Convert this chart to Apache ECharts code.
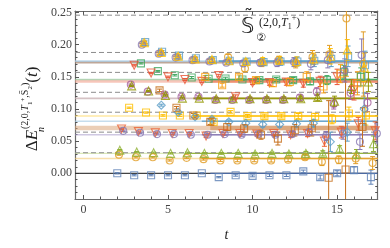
<!DOCTYPE html>
<html><head><meta charset="utf-8">
<script src="https://cdn.jsdelivr.net/npm/echarts@6/dist/echarts.min.js"></script>
<style>html,body{margin:0;padding:0;background:#fff}#c{width:390px;height:248px}</style>
</head><body><div id="c"></div>
<script>
// ---------- axis ticks ----------
const xMajorTicks = [0, 5, 10, 15];
const yMajorTicks = [0, 0.05, 0.10, 0.15, 0.20, 0.25];
const xRange = [-0.5, 17.4];
const yRange = [-0.04, 0.2525];

// ---------- non-interacting levels (dashed) ----------
const levels = [0.032, 0.064, 0.095, 0.126, 0.157, 0.188, 0.246];

// ---------- data series (first t, values, errors) ----------
const blueSqT0 = 2;
const blueSqVal = [0.000,-0.003,-0.003,-0.003,-0.003,0.000,-0.006,-0.003,-0.004,-0.003,-0.003,0.003,-0.006,0.000,0.005,-0.006];
const blueSqErr = [0.001,0.001,0.001,0.001,0.001,0.001,0.001,0.0015,0.0015,0.002,0.002,0.002,0.003,0.004,0.005,0.011];

const orangeLoT0 = 2;
const orangeLoVal = [0.029,0.025,0.025,0.020,0.024,0.022,0.020,0.020,0.020,0.020,0.021,0.025,0.018,0.021,0.023,0.016];
const orangeLoErr = [0.001,0.001,0.001,0.001,0.0012,0.0015,0.0015,0.002,0.002,0.0025,0.003,0.004,0.006,0.006,0.008,0.010];

const greenTriT0 = 2;
const greenTriVal = [0.036,0.033,0.032,0.031,0.032,0.031,0.031,0.031,0.030,0.031,0.030,0.031,0.031,0.038,0.030,0.046];
const greenTriErr = [0.001,0.001,0.001,0.001,0.001,0.0012,0.0015,0.0015,0.002,0.002,0.0025,0.003,0.004,0.005,0.007,0.012];

const redLoT0 = 2;
const redLoVal = [0.069,0.065,0.063,0.062,0.062,0.058,0.062,0.062,0.061,0.062,0.060,0.062,0.050,0.064,0.077,0.066];
const redLoErr = [0.001,0.001,0.0012,0.0015,0.0015,0.002,0.002,0.0025,0.003,0.003,0.004,0.005,0.008,0.009,0.010,0.014];

const purpleLoT0 = 2;
const purpleLoVal = [0.066,0.063,0.061,0.061,0.060,0.060,0.061,0.060,0.061,0.060,0.061,0.064,0.058,0.062,0.049,0.062];
const purpleLoErr = [0.001,0.001,0.0012,0.0015,0.0015,0.002,0.002,0.0025,0.003,0.003,0.004,0.005,0.007,0.009,0.012,0.015];

const yellowSqT0 = 2;
const yellowSqVal = [0.102,0.0945,0.090,0.090,0.090,0.080,0.0955,0.089,0.089,0.089,0.089,0.088,0.084,0.093,0.090];
const yellowSqErr = [0.001,0.001,0.0012,0.0015,0.0015,0.002,0.002,0.0025,0.003,0.003,0.004,0.005,0.007,0.010,0.015];

const lblueLoT0 = 4;
const lblueLoVal = [0.106,0.095,0.088,0.084,0.080,0.078,0.076,0.076,0.077,0.078,0.049,0.064,0.100];
const lblueLoErr = [0.0015,0.002,0.002,0.003,0.003,0.003,0.004,0.004,0.005,0.006,0.015,0.014,0.025];

const brownSqT0 = 4;
const brownSqVal = [0.129,0.102,0.090,0.080,0.072,0.0696,0.060,0.054,0.067,0.070,-0.007,0.006,0.072];
const brownSqErr = [0.002,0.002,0.003,0.004,0.005,0.006,0.007,0.010,0.009,0.012,0.12,0.16,0.03];

const mauveT0 = 2;
const mauveVal = [0.138,0.127,0.1226,0.119,0.119,0.114,0.114,0.114,0.114,0.114,0.118,0.127,0.108,0.125,0.110];
const mauveErr = [0.001,0.001,0.0012,0.0015,0.0015,0.002,0.002,0.0025,0.003,0.003,0.004,0.006,0.008,0.010,0.014];

const oliveT0 = 2;
const oliveVal = [0.136,0.128,0.121,0.117,0.117,0.116,0.116,0.116,0.116,0.116,0.116,0.118,0.112,0.135,0.142];
const oliveErr = [0.001,0.001,0.0012,0.0015,0.0015,0.002,0.002,0.0025,0.003,0.003,0.004,0.005,0.008,0.011,0.015];

const greenSqT0 = 3;
const greenSqVal = [0.171,0.159,0.1526,0.149,0.147,0.1475,0.146,0.145,0.146,0.145,0.143,0.145,0.158,0.150];
const greenSqErr = [0.001,0.001,0.0012,0.0015,0.0015,0.002,0.002,0.0025,0.003,0.004,0.005,0.007,0.010,0.014];

const redMidT0 = 3;
const redMidVal = [0.168,0.156,0.150,0.146,0.143,0.152,0.119,0.141,0.141,0.142,0.140,0.143,0.150,0.130];
const redMidErr = [0.001,0.001,0.0012,0.0015,0.002,0.002,0.003,0.003,0.004,0.005,0.006,0.008,0.012,0.016];

const orangeSqT0 = 7;
const orangeSqVal = [0.150,0.137,0.150,0.145,0.140,0.142,0.150,0.135,0.155,0.140];
const orangeSqErr = [0.002,0.003,0.003,0.004,0.005,0.006,0.008,0.010,0.014,0.018];

const orangeTopT0 = 3;
const orangeTopVal = [0.202,0.187,0.181,0.177,0.175,0.181,0.163,0.172,0.176,0.172,0.181,0.185,0.241,0.170];
const orangeTopErr = [0.002,0.002,0.002,0.003,0.003,0.004,0.005,0.006,0.006,0.008,0.010,0.014,0.09,0.05];

const lblueTopT0 = 3;
const lblueTopVal = [0.204,0.189,0.183,0.179,0.176,0.175,0.174,0.173,0.174,0.174,0.175,0.178,0.182,0.168];
const lblueTopErr = [0.002,0.002,0.002,0.002,0.003,0.003,0.004,0.005,0.006,0.007,0.009,0.012,0.016,0.022];

const purpleTopT0 = 3;
const purpleTopVal = [0.200,0.186,0.180,0.176,0.174,0.172,0.171,0.172,0.172,0.173,0.170,0.176,0.160,0.184];
const purpleTopErr = [0.002,0.002,0.002,0.002,0.003,0.003,0.004,0.005,0.006,0.007,0.009,0.012,0.018,0.025];

const yellowTopT0 = 3;
const yellowTopVal = [0.203,0.188,0.182,0.178,0.177,0.175,0.174,0.175,0.176,0.174,0.178,0.182,0.192,0.165];
const yellowTopErr = [0.002,0.002,0.002,0.002,0.003,0.003,0.004,0.005,0.006,0.007,0.009,0.012,0.016,0.022];

// ---------- fit results (bands) ----------
const fitCenter = [0.000, 0.023, 0.031, 0.060, 0.0705, 0.081, 0.089, 0.1165, 0.1435, 0.146, 0.1725, 0.1745];
const fitHalf   = [0.0007, 0.0012, 0.0010, 0.0012, 0.0035, 0.0012, 0.0012, 0.0013, 0.0025, 0.0012, 0.0018, 0.0012];
const fitFrom   = [7.5, 7, 6, 7, 7.5, 7, 6.5, 6.5, 7.5, 7, null, 8];

// ---------- styles ----------
const fitStyle = [
  {light:'#2f2f2f', la:0.9, dark:'#4d6ca6', da:0.95},
  {light:'#f3c468', la:0.55, dark:'#e19c24', da:0.9},
  {light:'#bcd57e', la:0.55, dark:'#8fb032', da:0.9},
  {light:'#a89bcb', la:0.55, dark:'#8778b3', da:0.9},
  {light:'#dba57a', la:0.55, dark:'#cf8a52', da:0.55},
  {light:'#a7cbe4', la:0.65, dark:'#5d9ec7', da:0.85},
  {light:'#ffd866', la:0.6, dark:'#ffbf00', da:0.95},
  {light:'#c7aeb0', la:0.75, dark:'#929600', da:0.95},
  {light:'#f2a08c', la:0.6, dark:'#eb6235', da:0.55},
  {light:'#86c997', la:0.6, dark:'#3fa860', da:0.9},
  {light:'#a88a76', la:0.75, dark:null, da:0},
  {light:'#a7cbe4', la:0.7, dark:'#5d9ec7', da:0.95}
];

const dataSeries = [
  {t0:blueSqT0, v:blueSqVal, e:blueSqErr, dt:0.0, color:'#5E81B5', symbol:'rect'},
  {t0:orangeLoT0, v:orangeLoVal, e:orangeLoErr, dt:0.1, color:'#E19C24', symbol:'circle'},
  {t0:greenTriT0, v:greenTriVal, e:greenTriErr, dt:0.15, color:'#8FB032', symbol:'triangle'},
  {t0:redLoT0, v:redLoVal, e:redLoErr, dt:0.25, color:'#EB6235', symbol:'triangle', rot:180},
  {t0:purpleLoT0, v:purpleLoVal, e:purpleLoErr, dt:0.35, color:'#8778B3', symbol:'circle'},
  {t0:yellowSqT0, v:yellowSqVal, e:yellowSqErr, dt:0.7, color:'#FFBF00', symbol:'rect'},
  {t0:lblueLoT0, v:lblueLoVal, e:lblueLoErr, dt:0.6, color:'#5D9EC7', symbol:'diamond'},
  {t0:brownSqT0, v:brownSqVal, e:brownSqErr, dt:0.5, color:'#C56E1A', symbol:'rect'},
  {t0:mauveT0, v:mauveVal, e:mauveErr, dt:0.8, color:'#A5609D', symbol:'circle'},
  {t0:oliveT0, v:oliveVal, e:oliveErr, dt:0.85, color:'#929600', symbol:'triangle'},
  {t0:greenSqT0, v:greenSqVal, e:greenSqErr, dt:0.4, color:'#3FA860', symbol:'rect'},
  {t0:redMidT0, v:redMidVal, e:redMidErr, dt:0.0, color:'#E95536', symbol:'triangle', rot:180},
  {t0:orangeSqT0, v:orangeSqVal, e:orangeSqErr, dt:0.2, color:'#F89F13', symbol:'rect'},
  {t0:orangeTopT0, v:orangeTopVal, e:orangeTopErr, dt:0.55, color:'#E19C24', symbol:'circle'},
  {t0:lblueTopT0, v:lblueTopVal, e:lblueTopErr, dt:0.65, color:'#5D9EC7', symbol:'rect'},
  {t0:purpleTopT0, v:purpleTopVal, e:purpleTopErr, dt:0.45, color:'#8778B3', symbol:'circle'},
  {t0:yellowTopT0, v:yellowTopVal, e:yellowTopErr, dt:0.6, color:'#FFBF00', symbol:'triangle'}
];

// ---------- build ----------
const xMinorTicks = [], yMinorTicks = [];
for (let k = 1; k <= 17; k++) if (k % 5) xMinorTicks.push(k);
for (let k = -3; k <= 25; k++) if (k % 5) yMinorTicks.push(k / 100);

const serif = 'Liberation Serif';
const frameColor = '#6a6a6a';

function xAxisDef(pos, ticks, len, showLine, labels) {
  return {
    type:'value', position:pos, min:xRange[0], max:xRange[1],
    axisLine:{show:showLine, onZero:false, lineStyle:{color:frameColor, width:1.2}},
    axisTick:{show:true, inside:true, length:len, customValues:ticks, lineStyle:{color:'#555', width:1}},
    axisLabel: labels ? {show:true, customValues:ticks, fontFamily:serif, fontSize:12, color:'#444', margin:5} : {show:false},
    splitLine:{show:false}
  };
}
function yAxisDef(pos, ticks, len, showLine, labels) {
  return {
    type:'value', position:pos, min:yRange[0], max:yRange[1],
    axisLine:{show:showLine, onZero:false, lineStyle:{color:frameColor, width:1.2}},
    axisTick:{show:true, inside:true, length:len, customValues:ticks, lineStyle:{color:'#555', width:1}},
    axisLabel: labels ? {show:true, customValues:ticks, fontFamily:serif, fontSize:12, color:'#444', margin:3,
      formatter: v => v.toFixed(2)} : {show:false},
    splitLine:{show:false}
  };
}

const bandData = [], bandSty = [];
fitCenter.forEach((c, i) => {
  const s = fitStyle[i];
  bandData.push([xRange[0], xRange[1], c, fitHalf[i]]); bandSty.push({color:s.light, op:s.la});
  if (fitFrom[i] != null) { bandData.push([fitFrom[i], xRange[1], c, fitHalf[i]]); bandSty.push({color:s.dark, op:s.da}); }
});

const series = [];
series.push({
  type:'custom', z:1, silent:true, clip:true, data:bandData,
  encode:{x:[0,1], y:2},
  renderItem:(params, api) => {
    const st = bandSty[params.dataIndex];
    const c = api.value(2), h = api.value(3);
    const p0 = api.coord([api.value(0), c + h]);
    const p1 = api.coord([api.value(1), c - h]);
    return {type:'rect', shape:{x:p0[0], y:p0[1], width:p1[0]-p0[0], height:Math.max(p1[1]-p0[1], 1.2)},
      style:{fill:st.color, opacity:st.op}};
  }
});
series.push({
  type:'custom', z:2, silent:true, clip:true, data:levels.map(v => [v]),
  encode:{y:0},
  renderItem:(params, api) => {
    const v = api.value(0);
    const a = api.coord([xRange[0], v]), b = api.coord([xRange[1], v]);
    return {type:'line', shape:{x1:a[0], y1:a[1], x2:b[0], y2:b[1]},
      style:{stroke:'#8c8c8c', lineWidth:1, lineDash:[5,3]}};
  }
});

dataSeries.forEach(d => {
  const pts = d.v.map((v, i) => [d.t0 + i + d.dt, v, d.e[i]]);
  series.push({
    type:'custom', z:3, silent:true, clip:true, data:pts, encode:{x:0, y:1},
    itemStyle:{color:d.color},
    renderItem:(params, api) => {
      const x = api.value(0), y = api.value(1), e = api.value(2);
      const top = api.coord([x, y + e]), bot = api.coord([x, y - e]);
      const col = d.color, cap = 2.5;
      return {type:'group', children:[
        {type:'line', shape:{x1:top[0], y1:top[1], x2:bot[0], y2:bot[1]}, style:{stroke:col, lineWidth:1}},
        {type:'line', shape:{x1:top[0]-cap, y1:top[1], x2:top[0]+cap, y2:top[1]}, style:{stroke:col, lineWidth:1}},
        {type:'line', shape:{x1:bot[0]-cap, y1:bot[1], x2:bot[0]+cap, y2:bot[1]}, style:{stroke:col, lineWidth:1}}
      ]};
    }
  });
  series.push({
    type:'scatter', z:4, silent:true, clip:true, data:pts.map(p => [p[0], p[1]]),
    symbol:d.symbol, symbolSize:d.symbol === 'triangle' ? 8 : (d.symbol === 'diamond' ? 8 : 7), symbolRotate:d.rot || 0,
    itemStyle:{color:'rgba(255,255,255,0)', borderColor:d.color, borderWidth:1.1}
  });
});

const chart = echarts.init(document.getElementById('c'), null, {renderer:'canvas'});
chart.setOption({
  animation:false,
  backgroundColor:'#fff',
  grid:{left:75, right:12.3, top:11, bottom:49, containLabel:false},
  xAxis:[
    Object.assign(xAxisDef('bottom', xMajorTicks, 4, true, true),
      {name:'t', nameLocation:'middle', nameGap:29,
       nameTextStyle:{fontFamily:serif, fontStyle:'italic', fontSize:14, color:'#222'}}),
    xAxisDef('bottom', xMinorTicks, 2.5, false, false),
    xAxisDef('top', xMajorTicks, 4, true, false),
    xAxisDef('top', xMinorTicks, 2.5, false, false)
  ],
  yAxis:[
    yAxisDef('left', yMajorTicks, 4, true, true),
    yAxisDef('left', yMinorTicks, 2.5, false, false),
    yAxisDef('right', yMajorTicks, 4, true, false),
    yAxisDef('right', yMinorTicks, 2.5, false, false)
  ],
  series:series,
  graphic:[
    {type:'text', x:33, y:109, rotation:Math.PI/2, z:10,
     style:{
       text:'{d|Δ}{e|E}{n|n}{s|(2,0,}{si|T}{ss|1}{sp|+}{s|,}{s|S̄}{ss|2}{s|)}{d|(}{e|t}{d|)}',
       align:'center', verticalAlign:'middle', fill:'#222',
       rich:{
         d:{fontFamily:serif, fontSize:17, lineHeight:26, verticalAlign:'middle'},
         e:{fontFamily:serif, fontStyle:'italic', fontSize:17, lineHeight:26, verticalAlign:'middle'},
         n:{fontFamily:serif, fontStyle:'italic', fontSize:10, verticalAlign:'bottom', width:1},
         s:{fontFamily:serif, fontSize:10, verticalAlign:'top'},
         si:{fontFamily:serif, fontStyle:'italic', fontSize:10, verticalAlign:'top'},
         ss:{fontFamily:serif, fontSize:7, verticalAlign:'top', padding:[7,0,0,0]},
         sp:{fontFamily:serif, fontSize:7, verticalAlign:'top'}
       }
     }},
    {type:'text', x:241, y:17, z:10,
     style:{text:'𝕊', fontFamily:'DejaVu Sans', fontSize:21, fill:'#222'}},
    {type:'text', x:244, y:8, z:10,
     style:{text:'˜', fontFamily:'DejaVu Sans', fontSize:18, fill:'#222'}},
    {type:'text', x:256, y:33, z:10,
     style:{text:'②', fontFamily:'DejaVu Sans', fontSize:11, fill:'#222'}},
    {type:'text', x:259, y:14, z:10,
     style:{text:'{s|(2,0,}{si|T}{ss|1}{sp|+}{s|)}', fill:'#222',
       rich:{
         s:{fontFamily:serif, fontSize:12, lineHeight:17, verticalAlign:'middle'},
         si:{fontFamily:serif, fontStyle:'italic', fontSize:12, lineHeight:17, verticalAlign:'middle'},
         ss:{fontFamily:serif, fontSize:8, verticalAlign:'bottom'},
         sp:{fontFamily:serif, fontSize:8, verticalAlign:'top'}
       }}}
  ]
});
</script></body></html>
